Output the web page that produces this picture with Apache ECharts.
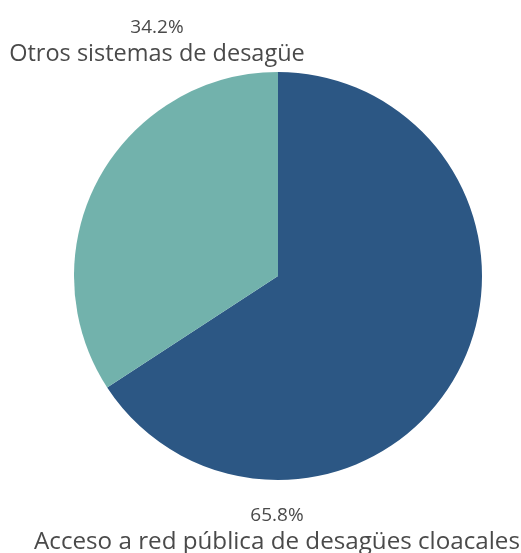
<!DOCTYPE html>
<html>
<head>
<meta charset="utf-8">
<script src="https://cdn.jsdelivr.net/npm/echarts@6/dist/echarts.min.js"></script>
<style>
html,body{margin:0;padding:0;background:#fff;}
#chart{width:521px;height:553px;}
</style>
</head>
<body>
<div id="chart"></div>
<script>
var categories = ['Acceso a red pública de desagües cloacales', 'Otros sistemas de desagüe'];
var values = [65.8, 34.2];
var colors = ['#2C5784', '#72B2AC'];

var chart = echarts.init(document.getElementById('chart'), null, {renderer: 'canvas'});
var nameSizes = [24.2, 23.5];
var data = categories.map(function (c, i) {
  return {
    name: c, value: values[i], itemStyle: { color: colors[i] },
    label: { rich: { n: { fontSize: nameSizes[i], fontFamily: 'Open Sans', color: '#4a4a4a', lineHeight: 26, align: 'center' } } }
  };
});
var labelPos = [ {x: 277, y: 529}, {x: 157, y: 41} ];
chart.setOption({
  animation: false,
  series: [{
    type: 'pie',
    center: [278, 276],
    radius: [0, 204],
    startAngle: 90,
    clockwise: true,
    data: data,
    labelLine: { show: false },
    label: {
      show: true,
      position: 'inside',
      overflow: 'none',
      fontFamily: 'Open Sans',
      color: '#4a4a4a',
      lineHeight: 26,
      formatter: function (p) {
        return '{p|' + p.value.toFixed(1) + '%}\n{n|' + p.name + '}';
      },
      rich: {
        p: { fontSize: 19, fontFamily: 'Open Sans', color: '#4a4a4a', lineHeight: 26, align: 'center' },
        n: { fontSize: 23.5, fontFamily: 'Open Sans', color: '#4a4a4a', lineHeight: 26, align: 'center' }
      }
    },
    labelLayout: function (params) {
      var pos = labelPos[params.dataIndex];
      return { x: pos.x, y: pos.y, align: 'center', verticalAlign: 'middle' };
    },
    emphasis: { disabled: true }
  }]
});
</script>
</body>
</html>
